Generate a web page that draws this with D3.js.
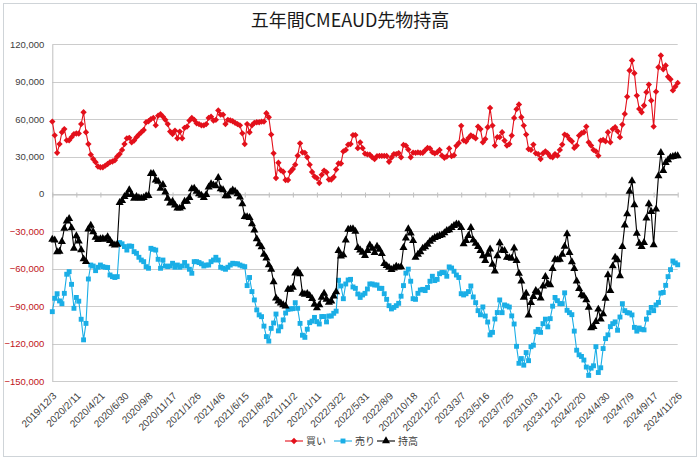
<!DOCTYPE html>
<html><head><meta charset="utf-8">
<script src="https://cdn.jsdelivr.net/npm/d3@7"></script>
<style>
html,body{margin:0;padding:0;background:#fff;}
svg{display:block;font-family:"Liberation Sans",Arial,sans-serif;}
</style></head><body>
<svg id="c" width="700" height="460"></svg>
<script>
// ---- data (values in thousands of contracts) ----
const title = "五年間CMEAUD先物持高";
const seriesNames = ["買い", "売り", "持高"];
const tickLabels = ["2019/12/3","2020/2/11","2020/4/21","2020/6/30","2020/9/8","2020/11/17","2021/1/26","2021/4/6","2021/6/15","2021/8/24","2021/11/2","2022/1/11","2022/3/22","2022/5/31","2022/8/9","2022/10/18","2022/12/27","2023/3/7","2023/5/16","2023/7/25","2023/10/3","2023/12/12","2024/2/20","2024/4/30","2024/7/9","2024/9/17","2024/11/26"];
const yTicks = [-150000,-120000,-90000,-60000,-30000,0,30000,60000,90000,120000];

const buyK = [
58,47,33,40,49.5,52,43,43,45.5,48,
48.5,48.5,56,65.5,49.5,40,31.5,28,25.5,22,
21.4,21.4,22.7,24,25.5,26,27,30,32,35.3,
40,44.6,45,41.4,42.8,45.5,47.6,49.5,51.3,57.5,
58.3,60,61,55,62.8,64,62,59.4,56,50,
48,50.8,44.6,50,44.6,53,54,58.8,61,59.4,
56.7,56,55,55,56,61,62,58.8,59.4,67,
63.6,63.6,56,59.4,59,58.3,57,56,55,48.6,
40,56,49.5,55,57,57.5,57.5,58,58,64.7,
61.5,47.6,32.6,12.8,25,19,17.8,11.2,11.2,17.8,
20,23.5,30.7,40.6,33.4,33,29.4,23.5,17.6,14,
12.7,8.8,15.3,18.7,17.3,11.6,11.6,13.5,19.6,24.4,
24.4,34.1,35.3,39.5,40,47.2,47.2,36.7,41.4,36.7,
32.3,31.7,31.5,29.4,28,30.3,30.5,30.5,30.5,30.5,
25.8,29.2,32,32,32.8,29.4,39.3,38.7,35.6,29.4,
33.2,33,33.3,33,33,35,36.9,36.5,33.5,32.5,
33.4,35.3,30.7,29,30,36.5,30.3,31,38.6,40.8,
54.6,43,42,44.8,47,46,44.6,54,52,41.4,
44,53.5,69,54.8,38.8,45.5,45.5,49.5,42.8,38.8,
40,46.8,61,68,71.7,61.5,54.8,47.6,36,35.3,
39.6,32.6,32,28,32.6,34.2,32.6,30,29.4,32,
30.7,35.3,39.6,47.6,46.8,44,42.2,36.9,38.8,46.8,
48.7,49.5,54,41.4,38.8,35.3,34.2,30.7,42.8,43.3,
42.2,49.5,41.4,52,53.5,50.3,45.5,55.6,64.2,78,
99,107,96.8,78.9,68.2,65.5,70.9,81.6,87.7,74.9,
54,82,101.6,111,100,103,94,92,83,86,89];

const sellK = [
-94.4,-83.7,-80,-85.8,-88,-79.7,-64.4,-62.3,-72.5,-91.7,
-83,-86,-100.5,-117,-103.8,-68.2,-57,-57.8,-61.5,-58.8,
-57,-58.3,-58.8,-59,-65,-66.3,-67,-66.3,-39,-40,
-42.2,-45,-41.7,-42,-46.3,-47.6,-50.8,-53,-54.3,-58.3,
-59.6,-43.6,-44.4,-45,-52.4,-59.6,-53,-57.8,-58.3,-57.8,
-55.6,-58.8,-57,-58.8,-57.8,-55,-57.8,-60.4,-63.6,-54.3,
-54.3,-55,-56,-57.8,-57,-57,-54.3,-53,-50.8,-53,
-58.8,-59.6,-60.4,-58.8,-57,-55.6,-56,-56,-57,-57.8,
-58.3,-73.5,-67,-78.3,-85,-93,-97,-98.4,-106,-114.4,
-118,-107.8,-103.5,-96.3,-109.8,-106.5,-101,-95.5,-92.5,-92.2,
-92,-87.2,-91.7,-103.8,-113.3,-115,-108.5,-103.2,-102,-99,
-102.4,-104.3,-98.3,-98.3,-102.6,-97.9,-97.9,-95.7,-94,-69.2,
-73.8,-84,-72.2,-69,-68.5,-74.6,-75.7,-80.2,-83,-81,
-79.7,-76.2,-72.2,-72.2,-73,-73,-75.7,-75.7,-80,-84.5,
-89.6,-92.2,-91,-89.6,-87.7,-82,-73.5,-63.5,-60.3,-70,
-84,-84.5,-79.7,-77,-76.5,-77.5,-75,-70,-66,-69.5,
-68.5,-64,-63,-63.1,-66,-58.5,-59.4,-62,-65,-67,
-80,-81,-80,-78.3,-73.8,-82.6,-87.2,-93.6,-96.9,-90.6,
-97.9,-102.7,-113,-111,-100.3,-95.1,-85,-95.2,-89,-89.8,
-90.7,-97.8,-104.3,-122.2,-135.8,-132,-137.3,-127.2,-133.7,-122.5,
-121.3,-110.5,-108.6,-111,-104,-100.4,-106.6,-100,-90,-83,
-85.6,-88,-88,-79.3,-93.3,-95.2,-96.8,-110,-125.3,-129,
-130.3,-133.2,-138.8,-145.5,-139.7,-137.8,-122.5,-143.2,-139.4,-124,
-116,-113,-106.4,-104,-102.6,-109.3,-98.7,-88,-93.6,-95.2,
-95.5,-97,-107,-110,-107.5,-108.6,-109,-100.4,-95.2,-91,
-93.6,-89,-87,-79.5,-79,-73.3,-66.3,-60.7,-53.8,-55.3,-56.8];

const netK = [
-36.5,-37,-46.5,-46,-38.3,-27.6,-21.8,-19.8,-27.3,-43.6,
-33.7,-37.8,-44.8,-52.2,-54.3,-28.2,-25.2,-30.4,-34.8,-36.6,
-36,-35.8,-36.5,-34.5,-37.5,-40,-41,-40.5,-7,-5.5,
-2.2,-0.5,3.3,-0.6,-3.5,-2.1,-3.2,-3.5,-3,-1.5,
-1.3,16.2,16.2,11,10,4.5,7.5,1.5,-3.5,-7.5,
-6,-9,-11.5,-11.5,-10.5,-6,-6,-3,4,4.5,
2,0,-1.2,-3,-0.5,5.5,8,7,6.5,13,
4,3.2,-1.5,-1.5,1.5,3,2,0,-2.5,-8,
-18.3,-18.5,-19,-24,-29,-36,-40,-42.5,-48.5,-51.5,
-57,-60.5,-70.5,-83.5,-86,-87.5,-89,-90,-76.5,-76.5,
-75,-63.6,-61.5,-64.2,-79.7,-80.5,-80,-81.6,-84,-88.5,
-91.5,-89,-83,-79.7,-84.5,-87,-86,-82,-78.5,-45.5,
-50,-49,-37,-28.5,-28.3,-28,-30,-43,-45,-46.8,
-49.5,-45.5,-41,-43.6,-47,-42,-44.5,-48,-56,-57.6,
-59,-60.7,-59.6,-58,-58.8,-58.5,-43,-35.5,-28,-31.5,
-37.5,-51,-48.5,-46.5,-43.6,-42.5,-40.5,-38,-36.5,-35,
-34.2,-33.5,-32.8,-31.2,-29.5,-28.9,-27,-25.5,-24.3,-24.5,
-27,-40,-37.5,-33.5,-27,-37,-39.6,-42.2,-45.5,-49.7,
-53.5,-48.5,-44.2,-56.5,-62,-49.7,-39.2,-45.3,-45.5,-51,
-51.2,-51.7,-43.5,-53.5,-63.8,-70,-83,-79.7,-97.3,-87.2,
-82.3,-77.5,-79,-83.5,-74,-66.3,-72,-73,-60,-52.5,
-53,-52.5,-48.5,-42,-32,-47,-54.5,-60,-70,-76,
-81,-82,-85,-91,-107.5,-106.5,-102.5,-92.5,-100.5,-96.3,
-83.7,-65,-77.5,-57.8,-50.8,-52.9,-65.8,-42.2,-25,-16,
2,10.4,-8.8,-31.6,-39.6,-42.2,-39,-19.5,-8,-14.2,
-40.9,-12.3,14.4,33.1,18.7,25.1,27.3,29.4,29.9,30.5,30.5];

// weekly report dates (categories)
const categories = buyK.map((_, i) => {
  const d = new Date(2019, 11, 3 + 7 * i);
  return `${d.getFullYear()}/${d.getMonth() + 1}/${d.getDate()}`;
});

// ---- chart ----
const svg = d3.select("#c");
const W = 700, H = 460;
const plot = {left: 52.3, right: 677.7, top: 44.3, bottom: 381};

svg.append("rect").attr("x", 3.5).attr("y", 3.5).attr("width", W - 7).attr("height", H - 7)
  .attr("fill", "#fff").attr("stroke", "#cfd4d8").attr("stroke-width", 1);

svg.append("text").attr("x", 350).attr("y", 27).attr("text-anchor", "middle")
  .attr("font-family", "'Noto Sans CJK JP','Noto Sans',sans-serif").attr("font-size", 18)
  .attr("fill", "#1a1a1a").text(title);

const x = d3.scalePoint().domain(categories).range([plot.left, plot.right]).padding(0);
const y = d3.scaleLinear().domain([-150000, 120000]).range([plot.bottom, plot.top]);

// gridlines
svg.append("g").selectAll("line").data(yTicks).join("line")
  .attr("x1", plot.left).attr("x2", plot.right)
  .attr("y1", d => Math.round(y(d)) + 0.5).attr("y2", d => Math.round(y(d)) + 0.5)
  .attr("stroke", "#cccccc").attr("stroke-width", 1);

// value axis
const yAxis = svg.append("g").attr("transform", `translate(${plot.left},0)`)
  .call(d3.axisLeft(y).tickValues(yTicks).tickFormat(d3.format(",")).tickSize(0).tickPadding(8));
yAxis.select(".domain").attr("stroke", "#bfbfbf");
yAxis.selectAll("text").attr("font-size", 9.5).attr("font-family", "'Liberation Sans',Arial,sans-serif")
  .attr("fill", d => d < 0 ? "#c0141a" : "#404040");

// category axis crossing at zero
const tickCats = tickLabels.map((_, k) => categories[k * 10]);
const xAxis = svg.append("g").attr("transform", `translate(0,${Math.round(y(0)) + 0.5})`)
  .call(d3.axisBottom(x).tickValues(tickCats).tickFormat("").tickSizeOuter(0).tickSizeInner(3));
xAxis.select(".domain").attr("stroke", "#bfbfbf");
xAxis.selectAll(".tick line").attr("stroke", "#bfbfbf").attr("y1", -2).attr("y2", 3);

// category labels at the bottom
const lab = svg.append("g").attr("transform", `translate(0,${plot.bottom})`)
  .call(d3.axisBottom(x).tickValues(tickCats).tickFormat((d, i) => tickLabels[i]).tickSize(0));
lab.select(".domain").remove();
lab.selectAll("text")
  .attr("font-size", 10).attr("fill", "#404040")
  .attr("font-family", "'Liberation Sans',Arial,sans-serif")
  .attr("text-anchor", "end").attr("dy", "0.35em")
  .attr("transform", "translate(2,13) rotate(-45)").attr("y", 0).attr("x", 0);

// series
const series = [
  {name: seriesNames[0], vals: buyK, color: "#e3101b", sym: "diamond"},
  {name: seriesNames[1], vals: sellK, color: "#1aaee6", sym: "square"},
  {name: seriesNames[2], vals: netK, color: "#000000", sym: "triangle"}
];
const symPath = {
  diamond: d3.symbol().type(d3.symbolSquare).size(20)(),
  square: d3.symbol().type(d3.symbolSquare).size(24)(),
  triangle: d3.symbol().type(d3.symbolTriangle).size(28)()
};
const symRot = {diamond: 45, square: 0, triangle: 0};

const line = d3.line().x(d => x(d.c)).y(d => y(d.v));
series.forEach(s => {
  const data = s.vals.map((v, i) => ({c: categories[i], v: v * 1000}));
  const g = svg.append("g");
  g.append("path").datum(data).attr("d", line).attr("fill", "none")
    .attr("stroke", s.color).attr("stroke-width", 1.1);
  g.selectAll("path.m").data(data).join("path").attr("class", "m")
    .attr("d", symPath[s.sym]).attr("fill", s.color)
    .attr("transform", d => `translate(${x(d.c)},${y(d.v)}) rotate(${symRot[s.sym]})`);
});

// legend
const legend = svg.append("g").attr("transform", "translate(0,441)");
const legX = [285, 334, 377];
series.forEach((s, i) => {
  const g = legend.append("g").attr("transform", `translate(${legX[i]},0)`);
  g.append("line").attr("x1", 0).attr("x2", 18).attr("stroke", s.color).attr("stroke-width", 1.1);
  g.append("path").attr("d", symPath[s.sym]).attr("fill", s.color)
    .attr("transform", `translate(9,0) rotate(${symRot[s.sym]})`);
  g.append("text").attr("x", 21).attr("y", 0).attr("dy", "0.35em")
    .attr("font-size", 10).attr("font-family", "'Noto Sans CJK JP',sans-serif")
    .attr("fill", "#404040").text(s.name);
});
</script>
</body></html>
